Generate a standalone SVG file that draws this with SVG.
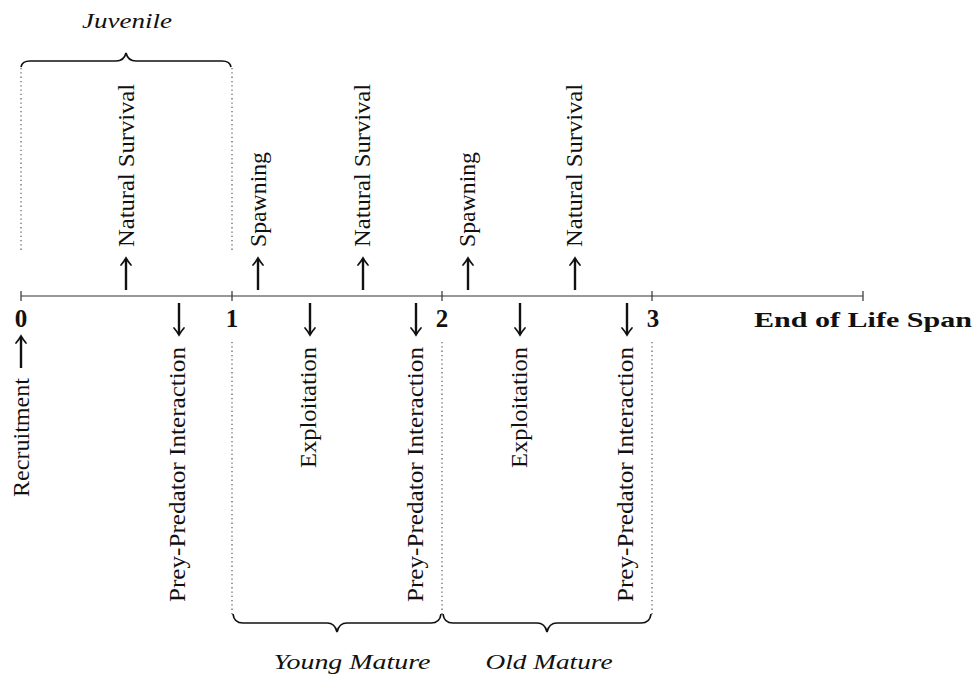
<svg xmlns="http://www.w3.org/2000/svg" width="977" height="677" viewBox="0 0 977 677">
<style>
.lbl{font-family:"Liberation Serif","Times New Roman",serif;font-size:24px;fill:#111}
.it{font-family:"Liberation Serif","Times New Roman",serif;font-style:italic;font-size:22px;fill:#111}
.num{font-family:"Liberation Serif","Times New Roman",serif;font-weight:bold;font-size:22px;fill:#111}
.dig{font-family:"Liberation Serif","Times New Roman",serif;font-weight:bold;font-size:25px;fill:#111}
.axis{stroke:#333;stroke-width:1.2;fill:none}
.dot{stroke:#666;stroke-width:1.3;stroke-dasharray:1.3 3;fill:none}
.brace{stroke:#111;stroke-width:1.7;fill:none}
.arr{stroke:#111;stroke-width:2.4;fill:none;stroke-linecap:butt}
.head{stroke:#111;stroke-width:1.7;fill:none;stroke-linecap:round}
</style>
<defs>
<g id="up"><path class="arr" d="M0,1 V32"/><path class="head" d="M-5,7 Q-1.8,3.2 0,0 Q1.8,3.2 5,7"/></g>
<g id="down"><path class="arr" d="M0,0 V31"/><path class="head" d="M-5,25 Q-1.8,28.8 0,32 Q1.8,28.8 5,25"/></g>
</defs>

<g id="axis">
<path class="axis" d="M21,296 H863 M21,291 V301 M232,291 V301 M442,291 V301 M652,291 V301 M863,291 V301"/>
<text class="dig" x="21" y="327" text-anchor="middle">0</text>
<text class="dig" x="232" y="327" text-anchor="middle">1</text>
<text class="dig" x="442" y="327" text-anchor="middle">2</text>
<text class="dig" x="653" y="327" text-anchor="middle">3</text>
<text class="num" x="754" y="327" textLength="218" lengthAdjust="spacingAndGlyphs">End of Life Span</text>
</g>

<g id="guides">
<path class="dot" d="M21,68 V252 M232,68 V252 M232,342 V617 M442,342 V617 M652,342 V617"/>
</g>

<g id="juvenile">
<path class="brace" d="M21,67 Q22,61 30,61 H116 Q124,61 126,53 Q128,61 136,61 H222 Q230,61 231,67"/>
<text class="it" x="127" y="28" text-anchor="middle" textLength="90" lengthAdjust="spacingAndGlyphs">Juvenile</text>
</g>
<g id="young-mature">
<path class="brace" d="M233,614 Q234,623 243,623 H327 Q335,623 337,632 Q339,623 347,623 H431 Q440,623 441,614"/>
<text class="it" x="352" y="669" text-anchor="middle" textLength="157" lengthAdjust="spacingAndGlyphs">Young Mature</text>
</g>
<g id="old-mature">
<path class="brace" d="M443,614 Q444,623 453,623 H537 Q545,623 547,632 Q549,623 557,623 H641 Q650,623 651,614"/>
<text class="it" x="549" y="669" text-anchor="middle" textLength="127" lengthAdjust="spacingAndGlyphs">Old Mature</text>
</g>

<g id="connectors">
<use href="#up" x="126" y="258"/>
<use href="#up" x="258" y="258"/>
<use href="#up" x="363" y="258"/>
<use href="#up" x="468" y="258"/>
<use href="#up" x="575" y="258"/>
<use href="#down" x="179" y="303"/>
<use href="#down" x="310" y="303"/>
<use href="#down" x="416" y="303"/>
<use href="#down" x="520" y="303"/>
<use href="#down" x="627" y="303"/>
<use href="#up" x="21" y="336"/>
</g>

<g id="natural-survival-1"><text class="lbl" transform="translate(134,247) rotate(-90)" textLength="163" lengthAdjust="spacingAndGlyphs">Natural Survival</text></g>
<g id="spawning-1"><text class="lbl" transform="translate(266,247) rotate(-90)" textLength="95" lengthAdjust="spacingAndGlyphs">Spawning</text></g>
<g id="natural-survival-2"><text class="lbl" transform="translate(370,247) rotate(-90)" textLength="163" lengthAdjust="spacingAndGlyphs">Natural Survival</text></g>
<g id="spawning-2"><text class="lbl" transform="translate(475,247) rotate(-90)" textLength="95" lengthAdjust="spacingAndGlyphs">Spawning</text></g>
<g id="natural-survival-3"><text class="lbl" transform="translate(582,247) rotate(-90)" textLength="163" lengthAdjust="spacingAndGlyphs">Natural Survival</text></g>

<g id="recruitment"><text class="lbl" transform="translate(29,378) rotate(-90)" text-anchor="end" textLength="119" lengthAdjust="spacingAndGlyphs">Recruitment</text></g>
<g id="prey-predator-1"><text class="lbl" transform="translate(185,347) rotate(-90)" text-anchor="end" textLength="255" lengthAdjust="spacingAndGlyphs">Prey-Predator Interaction</text></g>
<g id="exploitation-1"><text class="lbl" transform="translate(316,347) rotate(-90)" text-anchor="end" textLength="121" lengthAdjust="spacingAndGlyphs">Exploitation</text></g>
<g id="prey-predator-2"><text class="lbl" transform="translate(423,347) rotate(-90)" text-anchor="end" textLength="255" lengthAdjust="spacingAndGlyphs">Prey-Predator Interaction</text></g>
<g id="exploitation-2"><text class="lbl" transform="translate(527,347) rotate(-90)" text-anchor="end" textLength="121" lengthAdjust="spacingAndGlyphs">Exploitation</text></g>
<g id="prey-predator-3"><text class="lbl" transform="translate(633,347) rotate(-90)" text-anchor="end" textLength="255" lengthAdjust="spacingAndGlyphs">Prey-Predator Interaction</text></g>
</svg>
